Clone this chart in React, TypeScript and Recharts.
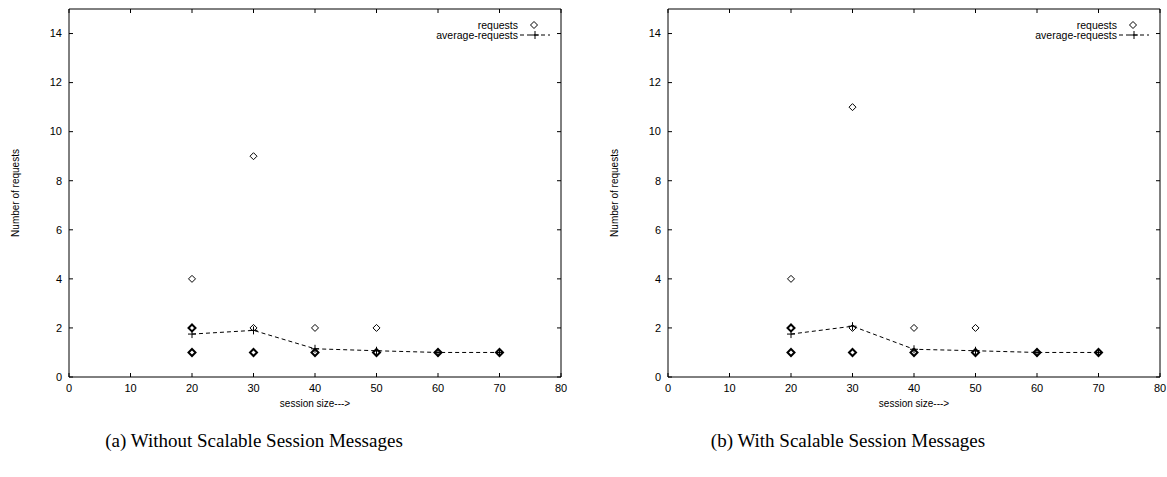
import React from 'react';
import { ScatterChart, Scatter, XAxis, YAxis, ReferenceArea, Legend, Label } from 'recharts';

const xTicks = [0, 10, 20, 30, 40, 50, 60, 70, 80];
const yTicks = [0, 2, 4, 6, 8, 10, 12, 14];

const reqSizes = [20, 20, 20, 30, 30, 30, 40, 40, 50, 50, 60, 70];
const reqValuesA = [4, 2, 1, 9, 2, 1, 2, 1, 2, 1, 1, 1];
const reqValuesB = [4, 2, 1, 11, 2, 1, 2, 1, 2, 1, 1, 1];
const reqOverlapA = [1, 2, 3, 1, 1, 3, 1, 3, 1, 3, 3, 3];
const reqOverlapB = [1, 2, 3, 1, 1, 3, 1, 3, 1, 3, 3, 3];

const avgSizes = [20, 30, 40, 50, 60, 70];
const avgValuesA = [1.75, 1.9, 1.15, 1.07, 1.0, 1.0];
const avgValuesB = [1.75, 2.07, 1.13, 1.07, 1.0, 1.0];

const captionA = '(a) Without Scalable Session Messages';
const captionB = '(b) With Scalable Session Messages';

const W = 580;
const H = 420;
const MARGIN = { top: 9, right: 19, bottom: 13, left: 29 };
const Y_AXIS_W = 40;
const X_AXIS_H = 30;
const PLOT_W = W - MARGIN.left - MARGIN.right - Y_AXIS_W;
const PLOT_H = H - MARGIN.top - MARGIN.bottom - X_AXIS_H;
const SANS = '"Liberation Sans", Arial, Helvetica, sans-serif';
const TICK_FS = 11;

const Diamond = (props: any) => {
  const { cx, cy, payload } = props;
  if (cx == null || cy == null) return null;
  const r = 3.5;
  const sw = payload && payload.n > 1 ? 2 : 1;
  return (
    <path
      d={`M${cx},${cy - r}L${cx + r},${cy}L${cx},${cy + r}L${cx - r},${cy}Z`}
      fill="none"
      stroke="#000"
      strokeWidth={sw}
    />
  );
};

const Plus = (props: any) => {
  const { cx, cy } = props;
  if (cx == null || cy == null) return null;
  const r = 4;
  return <path d={`M${cx - r},${cy}H${cx + r}M${cx},${cy - r}V${cy + r}`} stroke="#000" strokeWidth={1} fill="none" />;
};

const XTick = (props: any) => {
  const { x, y, payload } = props;
  return (
    <g>
      <line x1={x} x2={x} y1={y} y2={y - 4} stroke="#000" />
      <line x1={x} x2={x} y1={y - PLOT_H} y2={y - PLOT_H + 4} stroke="#000" />
      <text x={x} y={y + 15} textAnchor="middle" fontSize={TICK_FS} fontFamily={SANS} fill="#000">
        {payload.value}
      </text>
    </g>
  );
};

const YTick = (props: any) => {
  const { x, y, payload } = props;
  return (
    <g>
      <line x1={x} x2={x + 4} y1={y} y2={y} stroke="#000" />
      <line x1={x + PLOT_W - 4} x2={x + PLOT_W} y1={y} y2={y} stroke="#000" />
      <text x={x - 7} y={y + 3.8} textAnchor="end" fontSize={TICK_FS} fontFamily={SANS} fill="#000">
        {payload.value}
      </text>
    </g>
  );
};

const LegendBox = () => (
  <svg width={150} height={26} style={{ display: 'block', overflow: 'visible' }}>
    <text x={98} y={11.5} textAnchor="end" fontSize={10.5} fontFamily={SANS} fill="#000">requests</text>
    <path d="M114,4.5L117.5,8L114,11.5L110.5,8Z" fill="none" stroke="#000" strokeWidth={1} />
    <text x={98} y={21.5} textAnchor="end" fontSize={10.5} fontFamily={SANS} fill="#000">average-requests</text>
    <line x1={100} x2={130} y1={18} y2={18} stroke="#000" strokeDasharray="4 3" />
    <path d="M111,18H119M115,14V22" stroke="#000" strokeWidth={1} />
  </svg>
);

function Panel({ reqValues, overlap, avgValues }: { reqValues: number[]; overlap: number[]; avgValues: number[] }) {
  const reqData = reqSizes.map((s, i) => ({ x: s, y: reqValues[i], n: overlap[i] }));
  const avgData = avgSizes.map((s, i) => ({ x: s, y: avgValues[i] }));
  return (
    <ScatterChart width={W} height={H} margin={MARGIN}>
      <XAxis
        dataKey="x"
        type="number"
        domain={[0, 80]}
        ticks={xTicks}
        interval={0}
        tickSize={0}
        tickMargin={0}
        tickLine={false}
        axisLine={false}
        height={X_AXIS_H}
        tick={XTick}
        allowDataOverflow
      >
        <Label
          content={(p: any) => {
            const vb = p.viewBox || {};
            const cx = vb.x + vb.width / 2;
            return (
              <text x={cx} y={vb.y + 29.5} textAnchor="middle" fontSize={10} fontFamily={SANS} fill="#000">
                session size---&gt;
              </text>
            );
          }}
        />
      </XAxis>
      <YAxis
        dataKey="y"
        type="number"
        domain={[0, 15]}
        ticks={yTicks}
        interval={0}
        tickSize={0}
        tickMargin={0}
        tickLine={false}
        axisLine={false}
        width={Y_AXIS_W}
        tick={YTick}
        allowDataOverflow
      >
        <Label
          content={(p: any) => {
            const vb = p.viewBox || {};
            const lx = vb.x - 14;
            const ly = vb.y + vb.height / 2;
            return (
              <text
                x={lx}
                y={ly}
                transform={`rotate(-90 ${lx} ${ly})`}
                textAnchor="middle"
                dominantBaseline="central"
                fontSize={10}
                fontFamily={SANS}
                fill="#000"
              >
                Number of requests
              </text>
            );
          }}
        />
      </YAxis>
      <ReferenceArea x1={0} x2={80} y1={0} y2={15} fill="none" fillOpacity={0} stroke="#000" strokeWidth={1} ifOverflow="visible" />
      <Scatter
        name="average-requests"
        data={avgData}
        shape={Plus}
        line={{ stroke: '#000', strokeWidth: 1, strokeDasharray: '4 3' }}
        lineType="joint"
        isAnimationActive={false}
      />
      <Scatter name="requests" data={reqData} shape={Diamond} isAnimationActive={false} />
      <Legend
        layout="vertical"
        align="center"
        verticalAlign="middle"
        content={LegendBox}
        wrapperStyle={{ position: 'absolute', left: 420, top: 17, width: 150, height: 26, margin: 0 }}
      />
    </ScatterChart>
  );
}

const captionStyle: React.CSSProperties = {
  position: 'absolute',
  top: 430,
  textAlign: 'center',
  fontFamily: '"Liberation Serif", "Times New Roman", serif',
  fontSize: 19,
  color: '#000',
  whiteSpace: 'nowrap',
};

export default function App() {
  return (
    <div style={{ position: 'absolute', left: 0, top: 0, width: 1167, height: 477, background: '#fff', overflow: 'hidden' }}>
      <div style={{ position: 'absolute', left: 0, top: 0 }}>
        <Panel reqValues={reqValuesA} overlap={reqOverlapA} avgValues={avgValuesA} />
      </div>
      <div style={{ position: 'absolute', left: 599, top: 0 }}>
        <Panel reqValues={reqValuesB} overlap={reqOverlapB} avgValues={avgValuesB} />
      </div>
      <div style={{ ...captionStyle, left: 0, width: 508 }}>{captionA}</div>
      <div style={{ ...captionStyle, left: 598, width: 500 }}>{captionB}</div>
    </div>
  );
}
